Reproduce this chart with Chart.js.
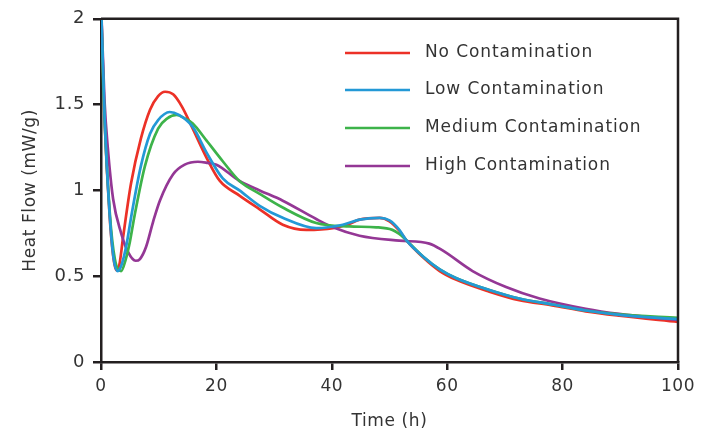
<!DOCTYPE html>
<html>
<head>
<meta charset="utf-8">
<script src="https://cdn.jsdelivr.net/npm/chart.js@4.4.1/dist/chart.umd.min.js"></script>
<style>
  html, body { margin: 0; padding: 0; background: #fff; }
  #wrap { width: 710px; height: 436px; position: relative; }
</style>
</head>
<body>
<div id="wrap"><canvas id="c" width="710" height="436"></canvas></div>
<script>
// ---- Data ----
const seriesNames = ["No Contamination", "Low Contamination", "Medium Contamination", "High Contamination"];

const noX  = [0, 0.6, 1.5, 2.1, 2.65, 3.2, 3.8, 5.2, 6.9, 8.5, 9.9, 11.1, 12.5, 14, 15.9, 18.3, 20.6, 24, 27.5, 31.5, 35.6, 40.2, 43, 44.8, 48.3, 50, 51.7, 52.9, 55.8, 58.7, 61.5, 67.3, 72.5, 78.2, 84, 89.8, 100];
const noY  = [2.1, 1.43, 0.85, 0.62, 0.535, 0.57, 0.72, 1.04, 1.30, 1.47, 1.55, 1.575, 1.56, 1.49, 1.36, 1.19, 1.055, 0.97, 0.89, 0.80, 0.77, 0.78, 0.805, 0.83, 0.84, 0.82, 0.765, 0.71, 0.61, 0.53, 0.48, 0.41, 0.36, 0.33, 0.295, 0.27, 0.234];

const lowX = [0, 0.6, 1.5, 2.2, 2.9, 3.6, 4.4, 5.25, 6.9, 8.5, 9.9, 11.9, 13.5, 15.9, 18.3, 21.1, 24, 27.5, 31.5, 37.3, 41.9, 44.8, 48.3, 50, 51.7, 52.9, 55.8, 58.7, 61.5, 67.3, 72.5, 78.2, 84, 89.8, 100];
const lowY = [2.1, 1.45, 0.86, 0.6, 0.53, 0.57, 0.68, 0.85, 1.14, 1.33, 1.41, 1.457, 1.44, 1.37, 1.22, 1.07, 1.0, 0.91, 0.84, 0.78, 0.80, 0.83, 0.84, 0.825, 0.77, 0.71, 0.615, 0.54, 0.49, 0.42, 0.37, 0.335, 0.30, 0.275, 0.25];

const medX = [0, 0.4, 1.5, 2.4, 3.5, 4.3, 5.0, 5.8, 7.6, 9.9, 11.5, 13.1, 14.5, 15.9, 18.3, 21.1, 24, 27.5, 31.5, 37.3, 43, 47.7, 50.5, 51.7, 52.9, 55.8, 58.7, 61.5, 67.3, 72.5, 78.2, 84, 89.8, 100];
const medY = [2.1, 1.6, 0.88, 0.6, 0.53, 0.6, 0.7, 0.85, 1.14, 1.36, 1.42, 1.44, 1.42, 1.39, 1.29, 1.17, 1.055, 0.98, 0.90, 0.81, 0.79, 0.785, 0.77, 0.746, 0.71, 0.615, 0.54, 0.49, 0.42, 0.37, 0.335, 0.30, 0.277, 0.257];

const highX = [0, 0.6, 1.2, 2.1, 3.5, 4.7, 6.0, 6.75, 7.8, 9.05, 10.2, 12.5, 14.5, 16.8, 18.5, 20, 24, 27.5, 31.5, 37.3, 40.2, 44.8, 51.7, 56.9, 59.2, 64.4, 70.2, 76, 84, 89.8, 100];
const highY = [2.1, 1.53, 1.24, 0.95, 0.75, 0.64, 0.59, 0.60, 0.67, 0.82, 0.94, 1.094, 1.15, 1.167, 1.16, 1.15, 1.055, 1.0, 0.94, 0.833, 0.785, 0.736, 0.707, 0.69, 0.65, 0.53, 0.437, 0.37, 0.31, 0.28, 0.245];

const xTicks = [0, 20, 40, 60, 80, 100];
const yTicks = [0, 0.5, 1, 1.5, 2];

// ---- Build ----
function pts(xs, ys) { return xs.map((x, i) => ({ x: x, y: ys[i] })); }
const colors = ["#EC3127", "#2399D6", "#3DB34A", "#943795"];
const allX = [noX, lowX, medX, highX];
const allY = [noY, lowY, medY, highY];
const drawOrder = [3, 0, 1, 2];

const datasets = seriesNames.map((name, i) => ({
  label: name,
  data: pts(allX[i], allY[i]),
  borderColor: colors[i],
  backgroundColor: colors[i],
  borderWidth: 2.7,
  pointRadius: 0,
  fill: false,
  cubicInterpolationMode: 'monotone',
  order: drawOrder[i]
}));

const FONT = "'DejaVu Sans', sans-serif";
const TEXT = "#333333";
const AXIS = "#231F20";

const spacingPlugin = {
  id: 'spacing',
  beforeDraw(chart) {
    if ('letterSpacing' in chart.ctx) chart.ctx.letterSpacing = '0.6px';
  }
};

const framePlugin = {
  id: 'frame',
  afterDatasetsDraw(chart) {
    const { ctx, chartArea: a } = chart;
    ctx.save();
    ctx.strokeStyle = AXIS;
    ctx.lineWidth = 2.5;
    ctx.beginPath();
    ctx.moveTo(a.left, a.top);
    ctx.lineTo(a.right, a.top);
    ctx.lineTo(a.right, a.bottom);
    ctx.stroke();
    ctx.restore();
  }
};

const legendPlugin = {
  id: 'inlegend',
  afterDraw(chart) {
    const { ctx } = chart;
    ctx.save();
    const rows = [53, 90, 128, 166];
    ctx.font = "17px " + FONT;
    if ('letterSpacing' in ctx) ctx.letterSpacing = '0.9px';
    ctx.textBaseline = 'middle';
    ctx.textAlign = 'left';
    seriesNames.forEach((n, i) => {
      ctx.strokeStyle = colors[i];
      ctx.lineWidth = 2.7;
      ctx.beginPath();
      ctx.moveTo(345, rows[i]);
      ctx.lineTo(410, rows[i]);
      ctx.stroke();
      ctx.fillStyle = TEXT;
      ctx.fillText(n, 425, rows[i]);
    });
    ctx.restore();
  }
};

new Chart(document.getElementById('c'), {
  type: 'line',
  data: { datasets },
  options: {
    responsive: false,
    animation: false,
    events: [],
    layout: { padding: { left: 0, right: 32, top: 17, bottom: 4 } },
    plugins: { legend: { display: false }, tooltip: { enabled: false } },
    scales: {
      x: {
        type: 'linear',
        min: 0, max: 100,
        afterBuildTicks(s) { s.ticks = xTicks.map(v => ({ value: v })); },
        afterFit(s) { s.height = 70; },
        ticks: { color: TEXT, font: { family: FONT, size: 17 }, padding: 6, maxRotation: 0, callback: v => String(v) },
        grid: { display: true, drawOnChartArea: false, drawTicks: true, tickLength: 8, color: AXIS, lineWidth: 2.5 },
        border: { display: true, color: AXIS, width: 2.5 },
        title: { display: true, text: 'Time (h)', color: TEXT, font: { family: FONT, size: 17 }, padding: 0 }
      },
      y: {
        type: 'linear',
        min: 0, max: 2,
        afterBuildTicks(s) { s.ticks = yTicks.map(v => ({ value: v })); },
        afterFit(s) { s.width = 101; },
        ticks: { color: TEXT, font: { family: FONT, size: 18 }, padding: 8, callback: v => String(v) },
        grid: { display: true, drawOnChartArea: false, drawTicks: true, tickLength: 8, color: AXIS, lineWidth: 2.5 },
        border: { display: true, color: AXIS, width: 2.5 },
        title: { display: true, text: 'Heat Flow (mW/g)', color: TEXT, font: { family: FONT, size: 17 }, padding: { top: 20, bottom: 0 } }
      }
    }
  },
  plugins: [spacingPlugin, framePlugin, legendPlugin]
});
</script>
</body>
</html>
